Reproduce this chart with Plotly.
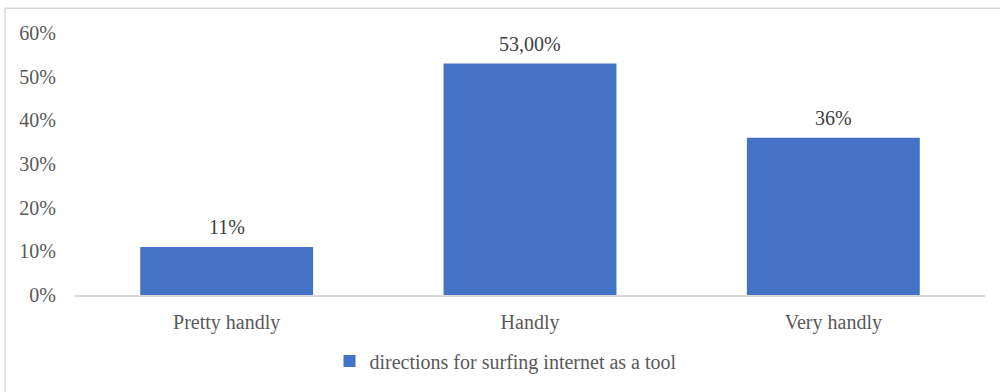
import plotly.graph_objects as go

categories = ["Pretty handly", "Handly", "Very handly"]
values = [0.11, 0.53, 0.36]
value_labels = ["11%", "53,00%", "36%"]
series_name = "directions for surfing internet as a tool"

BAR_COLOR = "#4472C4"
TEXT_COLOR = "#595959"
FONT = "Liberation Serif, Times New Roman, serif"

fig = go.Figure()
fig.add_trace(go.Bar(
    x=categories,
    y=values,
    name=series_name,
    marker=dict(color=BAR_COLOR, line=dict(width=0)),
    width=0.57,
    showlegend=True,
))

# value labels above each bar
for cat, val, lab in zip(categories, values, value_labels):
    fig.add_annotation(
        x=cat, y=val, text=lab, showarrow=False,
        yanchor="bottom", yshift=7,
        font=dict(family=FONT, size=20, color="#404040"),
    )

fig.update_layout(
    width=1000,
    height=392,
    margin=dict(l=75, r=15, t=33, b=95),
    paper_bgcolor="white",
    plot_bgcolor="white",
    font=dict(family=FONT, size=20, color=TEXT_COLOR),
    showlegend=True,
    legend=dict(
        orientation="h",
        x=0.5 - 24 / 910, xanchor="center",
        y=-0.252, yanchor="middle",
        font=dict(family=FONT, size=20, color=TEXT_COLOR),
        itemwidth=30,
    ),
    xaxis=dict(
        showline=True, linecolor="#d9d9d9", linewidth=1.5,
        showgrid=False, ticks="", tickfont=dict(size=20),
        ticklabelstandoff=8,
    ),
    yaxis=dict(
        range=[0, 0.6], dtick=0.1, tickformat=".0%",
        showgrid=False, showline=False, zeroline=False, ticks="",
        tickfont=dict(size=20), ticklabelstandoff=18,
    ),
)

# outer chart frame
fig.add_shape(
    type="rect", xref="paper", yref="paper",
    x0=-70 / 910, x1=1.05, y0=-0.4, y1=(297 - 8) / 264,
    line=dict(color="#d9d9d9", width=1.5), fillcolor="rgba(0,0,0,0)",
    layer="below",
)

fig.write_html("out.html")
